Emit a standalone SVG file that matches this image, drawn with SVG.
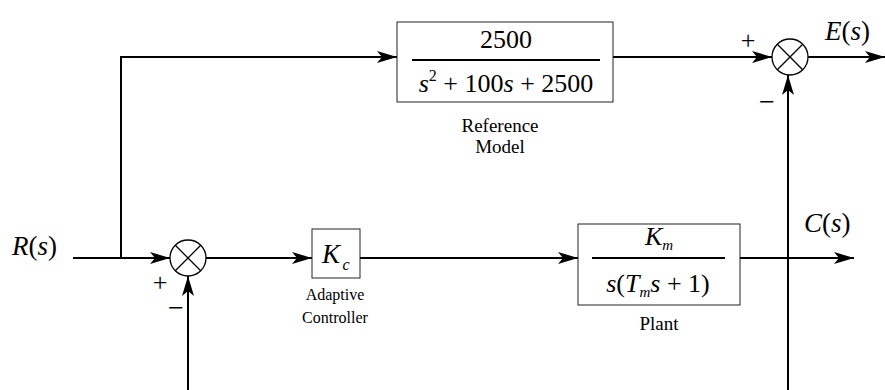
<svg xmlns="http://www.w3.org/2000/svg" width="885" height="390" viewBox="0 0 885 390" font-family="Liberation Serif, DejaVu Serif, serif">
<defs>
<marker id="arr" viewBox="0 0 20 12" refX="20" refY="6" markerWidth="20" markerHeight="12" markerUnits="userSpaceOnUse" orient="auto">
<path d="M0,0 L20,6 L0,12 L5,6 Z" fill="#000"/>
</marker>
</defs>
<style>
.ln{fill:none;stroke:#000;stroke-width:2}
.box{fill:#fff;stroke:#222;stroke-width:1}
.sum{fill:#fff;stroke:#000;stroke-width:1.3}
.it{font-style:italic}
</style>
<rect width="885" height="390" fill="#fff"/>
<g id="connectors">
<polyline class="ln" points="73,258 170,258" marker-end="url(#arr)"/>
<polyline class="ln" points="121,258 121,57 397,57" marker-end="url(#arr)"/>
<polyline class="ln" points="206,258 312,258" marker-end="url(#arr)"/>
<polyline class="ln" points="360,258 578,258" marker-end="url(#arr)"/>
<polyline class="ln" points="740,258 854,258" marker-end="url(#arr)"/>
<polyline class="ln" points="613,57 772,57" marker-end="url(#arr)"/>
<polyline class="ln" points="808,57 885,57" marker-end="url(#arr)"/>
<polyline class="ln" points="788,390 788,75" marker-end="url(#arr)"/>
<polyline class="ln" points="188,390 188,276" marker-end="url(#arr)"/>
</g>
<g id="sum1">
<circle class="sum" cx="188" cy="258" r="18"/>
<path class="sum" d="M175.3,245.3 L200.7,270.7 M200.7,245.3 L175.3,270.7"/>
<text x="160" y="291" font-size="26" text-anchor="middle">+</text>
<text x="176" y="317" font-size="28" text-anchor="middle">−</text>
</g>
<g id="sum2">
<circle class="sum" cx="790" cy="57" r="18"/>
<path class="sum" d="M777.3,44.3 L802.7,69.7 M802.7,44.3 L777.3,69.7"/>
<text x="748" y="49" font-size="26" text-anchor="middle">+</text>
<text x="767" y="111" font-size="28" text-anchor="middle">−</text>
</g>
<g id="refmodel">
<rect class="box" x="397" y="22" width="216" height="80"/>
<text x="506" y="48" font-size="26" text-anchor="middle">2500</text>
<line x1="412" y1="60" x2="600" y2="60" stroke="#000" stroke-width="2"/>
<text x="506" y="92" font-size="26" text-anchor="middle"><tspan font-style="italic">s</tspan><tspan font-size="16" dy="-11">2</tspan><tspan dy="11"> + 100</tspan><tspan font-style="italic">s</tspan> + 2500</text>
<text x="500" y="132" font-size="19" text-anchor="middle">Reference</text>
<text x="500" y="153" font-size="19" text-anchor="middle">Model</text>
</g>
<g id="controller">
<rect class="box" x="312" y="229" width="48" height="49"/>
<text class="it" x="331" y="263" font-size="27" text-anchor="middle">K</text>
<text class="it" x="346" y="270" font-size="16" text-anchor="middle">c</text>
<text x="335" y="300" font-size="16" text-anchor="middle">Adaptive</text>
<text x="335" y="323" font-size="16" text-anchor="middle">Controller</text>
</g>
<g id="plant">
<rect class="box" x="578" y="224" width="162" height="81"/>
<text class="it" x="659" y="245" font-size="26" text-anchor="middle">K<tspan font-size="15" dy="5">m</tspan></text>
<line x1="592" y1="258" x2="725" y2="258" stroke="#000" stroke-width="2"/>
<text class="it" x="658" y="292" font-size="26" text-anchor="middle">s<tspan font-style="normal">(</tspan>T<tspan font-size="15" dy="5">m</tspan><tspan dy="-5">s</tspan><tspan font-style="normal"> + 1)</tspan></text>
<text x="659" y="330" font-size="19" text-anchor="middle">Plant</text>
</g>
<g id="labels">
<text class="it" x="12" y="255" font-size="27">R<tspan font-style="normal">(</tspan>s<tspan font-style="normal">)</tspan></text>
<text class="it" x="804" y="232" font-size="27">C<tspan font-style="normal">(</tspan>s<tspan font-style="normal">)</tspan></text>
<text class="it" x="825" y="40" font-size="27">E<tspan font-style="normal">(</tspan>s<tspan font-style="normal">)</tspan></text>
</g>
</svg>
